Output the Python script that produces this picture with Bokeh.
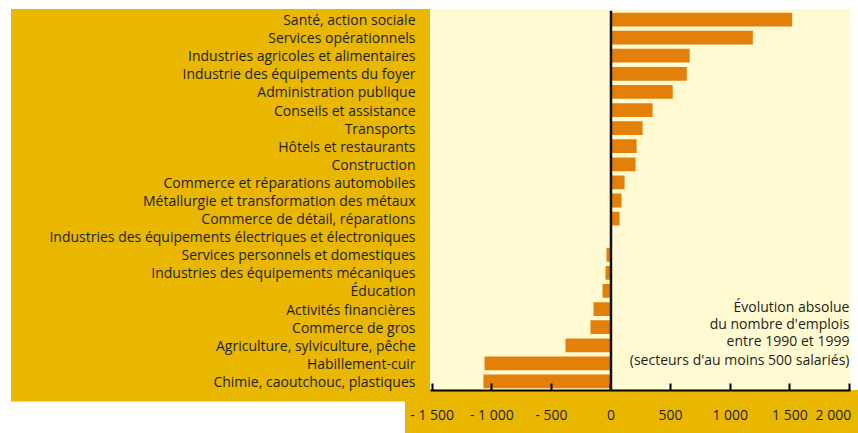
from bokeh.plotting import figure
from bokeh.models import FactorRange, Range1d, FixedTicker, Span, Label
from bokeh.embed import file_html
from bokeh.resources import INLINE

categories = [
    "Santé, action sociale",
    "Services opérationnels",
    "Industries agricoles et alimentaires",
    "Industrie des équipements du foyer",
    "Administration publique",
    "Conseils et assistance",
    "Transports",
    "Hôtels et restaurants",
    "Construction",
    "Commerce et réparations automobiles",
    "Métallurgie et transformation des métaux",
    "Commerce de détail, réparations",
    "Industries des équipements électriques et électroniques",
    "Services personnels et domestiques",
    "Industries des équipements mécaniques",
    "Éducation",
    "Activités financières",
    "Commerce de gros",
    "Agriculture, sylviculture, pêche",
    "Habillement-cuir",
    "Chimie, caoutchouc, plastiques",
]
values = [1520, 1190, 660, 636, 518, 349, 265, 215, 206, 114, 88, 72, 0,
          -38, -46, -71, -147, -172, -382, -1061, -1070]
tick_values = [-1500, -1000, -500, 0, 500, 1000, 1500, 2000]
tick_labels = ["- 1 500", "- 1 000", "- 500", "0", "500", "1 000", "1 500", "2 000"]
note_lines = ["Évolution absolue", "du nombre d'emplois", "entre 1990 et 1999",
              "(secteurs d'au moins 500 salariés)"]

GOLD = "#E9B700"
CREAM = "#FFFAD2"
ORANGE = "#E2800A"
INK = "#231f20"
FONT = "Open Sans"

p = figure(
    width=858, height=433,
    y_range=FactorRange(factors=categories[::-1], range_padding=0),
    x_range=Range1d(-1514, 2009),
    output_backend="svg", toolbar_location=None,
    min_border_left=430, min_border_right=8, min_border_top=10, min_border_bottom=43,
    background_fill_color=CREAM, border_fill_color=None, border_fill_alpha=0,
)
p.outline_line_color = None
p.grid.visible = False

# page decoration: gold panels behind the (transparent) border area
g = f"linear-gradient({GOLD},{GOLD})"
c = f"linear-gradient({CREAM},{CREAM})"
p.styles = {
    "background": (
        f"{c} left 430px top 9px / 420px 2px no-repeat, "
        f"{g} left 11px top 9px / 419px 392.5px no-repeat, "
        f"{g} left 405px top 390px / 453px 43px no-repeat, "
        "white"
    )
}

p.hbar(y=categories, right=values, left=0, height=0.76, fill_color=ORANGE, line_color=None)
p.add_layout(Span(location=0, dimension="height", line_color="#111111", line_width=2.5))

# x axis
xa = p.xaxis[0]
xa.ticker = FixedTicker(ticks=tick_values)
overrides = dict(zip(tick_values, tick_labels))
overrides[tick_values[-1]] = tick_labels[-1] + "\u00a0" * 2
xa.major_label_overrides = overrides
xa.axis_line_color = "black"
xa.axis_line_width = 2
xa.major_tick_line_color = "black"
xa.major_tick_line_width = 2
xa.major_tick_in = 7
xa.major_tick_out = 0
xa.minor_tick_line_color = None
xa.major_label_standoff = 14
xa.major_label_text_font = FONT
xa.major_label_text_font_size = "14px"
xa.major_label_text_color = INK

# y axis
ya = p.yaxis[0]
ya.axis_line_color = None
ya.major_tick_line_color = None
ya.minor_tick_line_color = None
ya.major_tick_in = 0
ya.major_tick_out = 0
ya.major_label_standoff = 15
ya.major_label_text_font = FONT
ya.major_label_text_font_size = "14px"
ya.major_label_text_color = INK

# note
for line, yy in zip(note_lines, [4.645, 3.70, 2.76, 1.70]):
    p.add_layout(Label(x=2000, y=yy, text=line, text_align="right", text_baseline="middle",
                       text_font=FONT, text_font_size="14px", text_color=INK))

open("out.html", "w").write(file_html(p, INLINE))
